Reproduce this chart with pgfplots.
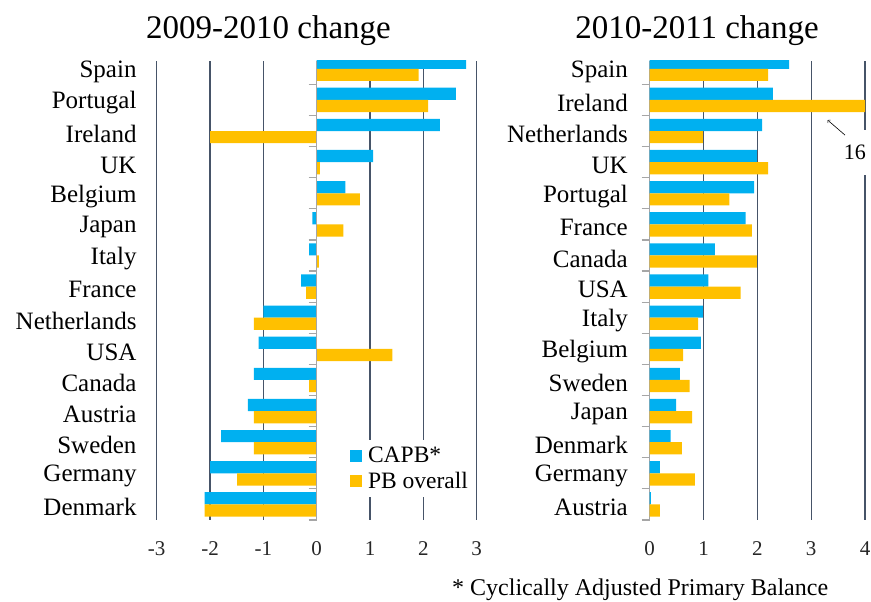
\documentclass[border=0pt]{standalone}
\usepackage{pgfplots}
\usepackage{pgfplotstable}
\pgfplotsset{compat=1.18}
\usepackage{fontspec}
\setmainfont{Liberation Serif}
\definecolor{capb}{HTML}{00B0F0}
\definecolor{pbo}{HTML}{FFC000}
\definecolor{gridc}{HTML}{465468}
\definecolor{zeroc}{HTML}{A6A6A6}

% y: 14 = top category
\pgfplotstableread{
y capb pb
14 2.80 1.91
13 2.61 2.09
12 2.31 -2.00
11 1.06 0.06
10 0.54 0.81
9 -0.08 0.50
8 -0.14 0.04
7 -0.29 -0.20
6 -1.00 -1.18
5 -1.09 1.42
4 -1.18 -0.14
3 -1.29 -1.18
2 -1.79 -1.18
1 -2.00 -1.49
0 -2.10 -2.10
}\lefttbl
\pgfplotstableread{
y capb pb
14 2.59 2.20
13 2.29 16
12 2.09 0.99
11 1.99 2.20
10 1.94 1.48
9 1.78 1.90
8 1.21 1.99
7 1.09 1.69
6 0.99 0.90
5 0.95 0.62
4 0.56 0.74
3 0.49 0.79
2 0.39 0.60
1 0.19 0.84
0 0.02 0.19
}\righttbl

\pgfplotsset{
  common/.style={
    scale only axis,
    height=459.3pt,
    ymin=-0.5, ymax=14.26,
    xbar, bar width=12.2pt,
    xmajorgrids,
    major grid style={draw=gridc, line width=1.3pt},
    major x tick style={draw=none},
    major tick length=0pt,
    ytick={0,...,14},
    yticklabel style={font=\fontsize{25}{30}\selectfont, inner sep=0pt, xshift=-20pt, yshift=-3pt},
    xticklabel style={font=\fontsize{21}{25}\selectfont, text=black!85, anchor=center, yshift=-29pt},
    /pgf/number format/assume math mode=true,
    legend image code/.code={\fill[##1, draw=none] (0pt,-6pt) rectangle (12pt,6pt); \path (16pt,0pt);},
  },
}

\begin{document}
\begin{tikzpicture}
\useasboundingbox (0pt,0pt) rectangle (871pt,602pt);

% ---------- left chart ----------
\begin{axis}[common,
  at={(156.7pt,82pt)}, anchor=south west,
  width=320pt,
  xmin=-3, xmax=3, xtick={-3,...,3},
  axis x line*=bottom, axis y line*=left,
  x axis line style={draw=none}, y axis line style={draw=none},
  yticklabels={Denmark,Germany,Sweden,Austria,Canada,USA,Netherlands,France,Italy,Japan,Belgium,UK,Ireland,Portugal,Spain},
  legend style={at={(rel axis cs:0.588,0.174)}, anchor=north west, draw=none, fill=white,
    font=\fontsize{23.5}{28}\selectfont, row sep=4pt, inner xsep=5pt, inner ysep=5pt},
  legend cell align=left,
]
\addplot[fill=capb, draw=none, bar shift=6.1pt] table[x=capb, y=y] {\lefttbl};
\addplot[fill=pbo, draw=none, bar shift=-6.1pt] table[x=pb, y=y] {\lefttbl};
\legend{CAPB*, PB overall}
\end{axis}

% zero line with category ticks
\begin{axis}[
  at={(316.7pt,82pt)}, anchor=south west,
  scale only axis, width=10pt, height=459.3pt,
  xmin=0, xmax=1, ymin=-0.5, ymax=14.26,
  axis x line=none, axis y line*=left,
  y axis line style={draw=zeroc, line width=1.3pt},
  ytick={-0.5,0.5,...,13.5}, yticklabels={},
  tick align=outside, major tick length=8pt,
  ytick style={draw=zeroc, line width=1.2pt},
]
\end{axis}

% ---------- right chart ----------
\begin{axis}[common,
  at={(649.7pt,82pt)}, anchor=south west,
  width=215.3pt,
  xmin=0, xmax=4, xtick={0,...,4},
  axis x line*=bottom, axis y line*=left,
  x axis line style={draw=none},
  y axis line style={draw=zeroc, line width=1.3pt},
  yticklabels={Austria,Germany,Denmark,Japan,Sweden,Belgium,Italy,USA,Canada,France,Portugal,UK,Netherlands,Ireland,Spain},
  yticklabel style={xshift=-1.7pt},
  extra y ticks={-0.5,0.5,...,13.5}, extra y tick labels={},
  extra y tick style={tick align=outside, major tick length=8pt, ytick style={draw=zeroc, line width=1.2pt}, grid=none},
  clip mode=individual,
]
\addplot[fill=capb, draw=none, bar shift=6.1pt] table[x=capb, y=y] {\righttbl};
\addplot[fill=pbo, draw=none, bar shift=-6.1pt] table[x=pb, y=y] {\righttbl};
\node[fill=white, inner xsep=3pt, inner ysep=15pt, font=\fontsize{22}{26}\selectfont] at (axis cs:3.81,11.32) {16};
\draw[->, >=to, line width=0.6pt] (axis cs:3.628,11.87) -- (axis cs:3.307,12.35);
\end{axis}

% titles and note
\node[anchor=base, inner sep=0pt, font=\fontsize{33}{40}\selectfont] at (268.5pt,563pt) {2009-2010 change};
\node[anchor=base, inner sep=0pt, font=\fontsize{33}{40}\selectfont] at (697pt,563pt) {2010-2011 change};
\node[anchor=base west, inner sep=0pt, font=\fontsize{24}{28}\selectfont] at (452pt,6pt) {* Cyclically Adjusted Primary Balance};
\end{tikzpicture}
\end{document}
